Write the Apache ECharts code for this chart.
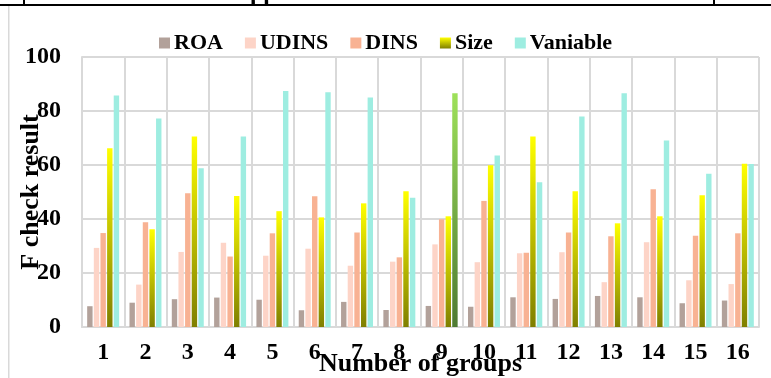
<!DOCTYPE html>
<html lang="en">
<head>
    <meta charset="UTF-8">
    <title>F check result</title>
    <script src="https://cdn.jsdelivr.net/npm/echarts@6.0.0/dist/echarts.min.js"></script>
    <style>
        html, body { margin: 0; padding: 0; background: #ffffff; }
        #main { width: 771px; height: 378px; }
    </style>
</head>
<body>

<div id="main"></div>

<script type="text/javascript">

    var groups = ['1', '2', '3', '4', '5', '6', '7', '8', '9', '10', '11', '12', '13', '14', '15', '16']
    var roa = [7.7, 9.0, 10.3, 10.9, 10.1, 6.2, 9.3, 6.3, 7.8, 7.5, 11.0, 10.4, 11.5, 11.0, 8.8, 9.8]
    var udins = [29.3, 15.7, 27.8, 31.2, 26.4, 29.0, 22.7, 24.2, 30.6, 24.0, 27.3, 27.7, 16.6, 31.4, 17.3, 15.9]
    var dins = [34.8, 38.8, 49.5, 26.1, 34.7, 48.4, 35.0, 25.8, 39.9, 46.7, 27.5, 35.0, 33.6, 51.0, 33.8, 34.7]
    var size = [66.2, 36.2, 70.6, 48.5, 42.9, 40.6, 45.8, 50.3, 41.0, 59.9, 70.6, 50.3, 38.4, 41.0, 48.8, 60.5]
    var vaniable = [85.7, 77.2, 58.8, 70.6, 87.4, 86.9, 85.0, 47.9, 86.6, 63.5, 53.6, 78.0, 86.6, 69.1, 56.8, 60.4]
    var yTicks = [0, 20, 40, 60, 80, 100]

    var font = 'Liberation Serif'

    // 第9组的 Vaniable 柱子是绿色的
    var vaniableData = vaniable.map(function (v, i) {
        if (groups[i] === '9') {
            return {
                value: v,
                itemStyle: {
                    color: new echarts.graphic.LinearGradient(0, 0, 0, 1, [
                        {offset: 0, color: '#9ee15a'},
                        {offset: 1, color: '#4e7a32'}
                    ])
                }
            }
        }
        return v
    })

    var myChart = echarts.init(document.getElementById('main'), null, {renderer: 'canvas'});

    var option = {
        backgroundColor: '#ffffff',
        animation: false,
        legend: {
            left: 154,
            top: 27,
            itemWidth: 11,
            itemHeight: 11,
            itemGap: 22,
            icon: 'rect',
            textStyle: {fontFamily: font, fontWeight: 'bold', fontSize: 22, color: '#000', padding: [0, 0, 0, -1]},
            data: ['ROA', 'UDINS', 'DINS', 'Size', 'Vaniable']
        },
        grid: {left: 82, right: 12, top: 57, bottom: 51, outerBoundsMode: 'none'},
        xAxis: {
            type: 'category',
            data: groups,
            name: 'Number of groups',
            nameLocation: 'middle',
            nameGap: 24,
            nameMoveOverlap: false,
            nameTextStyle: {fontFamily: font, fontWeight: 'bold', fontSize: 26, color: '#000'},
            axisLine: {show: true, lineStyle: {color: '#d9d9d9', width: 2}},
            axisTick: {show: false},
            axisLabel: {fontFamily: font, fontWeight: 'bold', fontSize: 24, color: '#000', margin: 14},
            splitLine: {show: true, lineStyle: {color: '#d9d9d9', width: 2}}
        },
        yAxis: {
            type: 'value',
            min: yTicks[0],
            max: yTicks[yTicks.length - 1],
            interval: 20,
            name: 'F check result',
            nameLocation: 'middle',
            nameGap: 38,
            nameMoveOverlap: false,
            nameTextStyle: {fontFamily: font, fontWeight: 'bold', fontSize: 26, color: '#000'},
            axisLine: {show: true, lineStyle: {color: '#d9d9d9', width: 2}},
            axisTick: {show: false},
            axisLabel: {fontFamily: font, fontWeight: 'bold', fontSize: 24, color: '#000', margin: 21},
            splitLine: {show: true, lineStyle: {color: '#d9d9d9', width: 2}}
        },
        series: [
            {name: 'ROA', type: 'bar', data: roa, barWidth: 5.4, barGap: '23%',
                itemStyle: {color: '#b2a19a'}},
            {name: 'UDINS', type: 'bar', data: udins, barWidth: 5.4, barGap: '23%',
                itemStyle: {color: '#fdd4c7'}},
            {name: 'DINS', type: 'bar', data: dins, barWidth: 5.4, barGap: '23%',
                itemStyle: {color: '#f8b293'}},
            {name: 'Size', type: 'bar', data: size, barWidth: 5.4, barGap: '23%',
                itemStyle: {
                    color: new echarts.graphic.LinearGradient(0, 0, 0, 1, [
                        {offset: 0, color: '#ffff00'},
                        {offset: 1, color: '#7f7f00'}
                    ])
                }},
            {name: 'Vaniable', type: 'bar', data: vaniableData, barWidth: 5.4, barGap: '23%',
                itemStyle: {color: '#9eede1'}}
        ],
        graphic: [
            // 页面上方的表格线
            {type: 'rect', shape: {x: 0, y: 4, width: 771, height: 2}, style: {fill: '#000'}},
            {type: 'rect', shape: {x: 23, y: 0, width: 2, height: 5}, style: {fill: '#000'}},
            {type: 'rect', shape: {x: 713, y: 0, width: 2, height: 5}, style: {fill: '#000'}},
            {type: 'rect', shape: {x: 8, y: 6, width: 1.5, height: 372}, style: {fill: '#d9d9d9'}},
            {type: 'text', left: 250, top: -18, style: {text: 'pp', fontFamily: font, fontWeight: 'bold', fontSize: 24, fill: '#000'}}
        ]
    };

    myChart.setOption(option);

</script>

</body>
</html>
